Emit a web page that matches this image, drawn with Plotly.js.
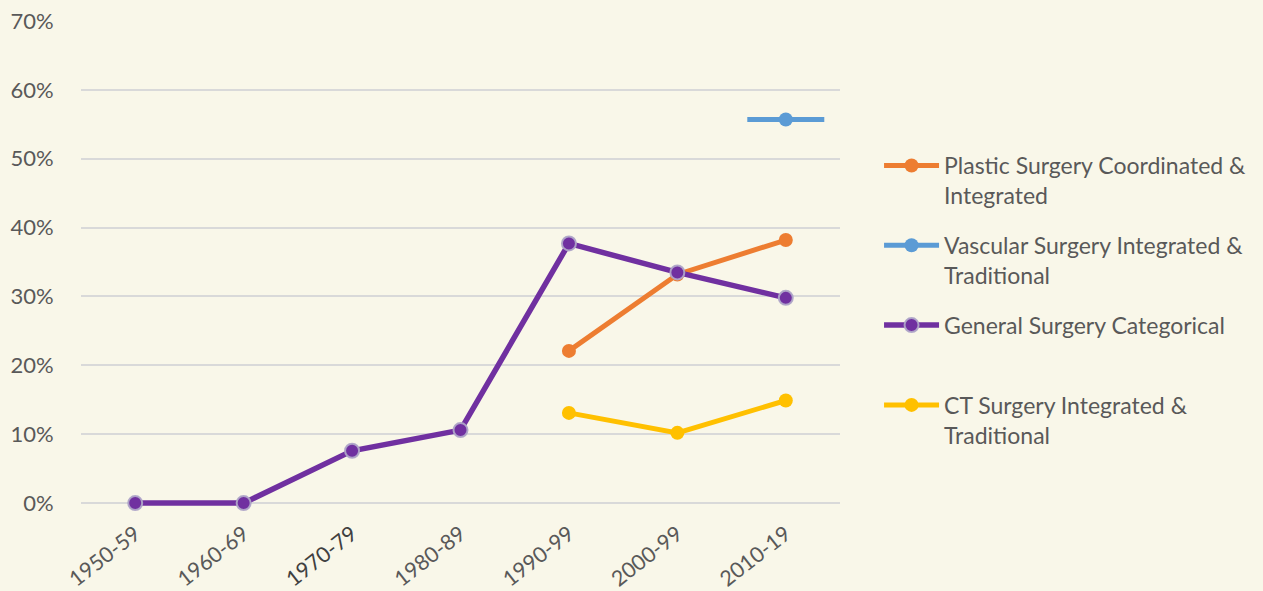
<!DOCTYPE html>
<html>
<head>
<meta charset="utf-8">
<script src="https://cdn.plot.ly/plotly-3.0.1.min.js"></script>
<style>html,body{margin:0;padding:0;background:#F9F7E9;}</style>
</head>
<body>
<div id="chart" style="width:1263px;height:591px;"></div>
<script>
const decades = ["1950-59","1960-69","1970-79","1980-89","1990-99","2000-99","2010-19"];
const plasticVals = [null,null,null,null,0.221,0.332,0.382];
const vascularVals = [null,null,null,null,null,null,0.557];
const generalVals = [0.0,0.0,0.076,0.106,0.377,0.335,0.298];
const ctVals = [null,null,null,null,0.131,0.102,0.149];
const seriesNames = ["Plastic Surgery Coordinated &<br>Integrated","Vascular Surgery Integrated &<br>Traditional","General Surgery Categorical<br> ","CT Surgery Integrated &<br>Traditional"];
const tickLabels = decades.map(d => d === "1970-79" ? '<span style="color:#404040">' + d + '</span>' : d);

const colors = ["#ED7D31","#5B9BD5","#7030A0","#FFC000"];
const mk = (vals, i, extra) => Object.assign({
  x: decades, y: vals, name: seriesNames[i], type: 'scatter', mode: 'lines+markers',
  legendgroup: 'g' + i, cliponaxis: false, connectgaps: false,
  line: {color: colors[i], width: 5},
  marker: {color: colors[i], size: 14, line: {width: 0}}
}, extra || {});

const traces = [
  mk(plasticVals, 0),
  // short horizontal dash behind the single vascular point
  {x: decades, y: vascularVals, type: 'scatter', mode: 'markers', showlegend: false, cliponaxis: false,
   legendgroup: 'g1', hoverinfo: 'skip',
   marker: {symbol: 'line-ew', size: 55, color: colors[1], line: {width: 5, color: colors[1]}}},
  mk(vascularVals, 1),
  mk(generalVals, 2, {line: {color: colors[2], width: 5.5}, marker: {color: colors[2], size: 14, line: {width: 2, color: 'rgba(175,165,200,0.95)'}}}),
  mk(ctVals, 3)
];

const layout = {
  width: 1263, height: 591,
  paper_bgcolor: '#F9F7E9', plot_bgcolor: '#F9F7E9',
  margin: {l: 81, r: 423, t: 21, b: 81},
  font: {family: 'Lato, "Open Sans", sans-serif', color: '#595959', size: 23},
  xaxis: {
    type: 'category', tickvals: decades, ticktext: tickLabels, tickangle: -38,
    showgrid: false, zeroline: false, showline: false, ticks: 'outside', ticklen: 2, tickcolor: 'rgba(0,0,0,0)',
    tickfont: {size: 21.5, color: '#595959'}, range: [-0.5, 6.5], fixedrange: true, automargin: false
  },
  yaxis: {
    range: [-0.01, 0.7], tick0: 0, dtick: 0.1, tickformat: '.0%', showgrid: true, gridcolor: '#D9D9D9', gridwidth: 2,
    zeroline: false, showline: false, ticks: 'outside', ticklen: 22, tickcolor: 'rgba(0,0,0,0)',
    tickfont: {size: 22, color: '#595959'}, automargin: false
  },
  legend: {
    xref: 'container', yref: 'container',
    x: 0.696, xanchor: 'left', y: 0.7563, yanchor: 'top', valign: 'top',
    itemwidth: 55, tracegroupgap: 17, bgcolor: 'rgba(0,0,0,0)', maxheight: 500,
    font: {size: 23, color: '#595959'}
  },
  showlegend: true
};

Plotly.newPlot('chart', traces, layout, {displayModeBar: false, staticPlot: true});
</script>
</body>
</html>
